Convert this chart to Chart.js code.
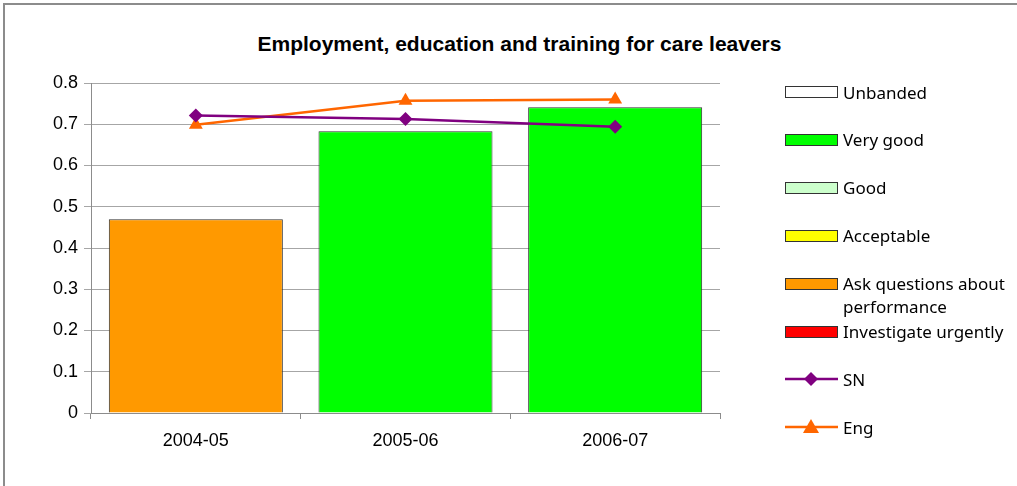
<!DOCTYPE html>
<html>
<head>
<meta charset="utf-8">
<script src="https://cdn.jsdelivr.net/npm/chart.js@4.4.1/dist/chart.umd.min.js"></script>
<style>
  body { margin: 0; background: #fff; }
  #wrap { position: relative; width: 1017px; height: 486px; overflow: hidden; }
  #frame { position: absolute; left: 3px; top: 3px; width: 1100px; height: 600px; border: 2px solid #8c8c8c; }
  #title { position: absolute; left: 0; width: 1039px; top: 32px; text-align: center; line-height: 26px;
           font: bold 21px "Liberation Sans", Arial, sans-serif; color: #000; }
  canvas { position: absolute; left: 0; top: 0; }
  #legend { position: absolute; left: 785px; top: 0; font: 17px "Noto Sans", sans-serif; color: #000; }
  .item { position: absolute; left: 0; white-space: nowrap; }
  .swatch { position: absolute; left: 0; width: 51px; height: 10px; border: 1px solid #333; }
  .label { position: absolute; left: 58px; line-height: 23px; }
</style>
</head>
<body>
<div id="wrap">
  <div id="frame"></div>
  <div id="title">Employment, education and training for care leavers</div>
  <canvas id="chart" width="1017" height="486"></canvas>
  <div id="legend"></div>
</div>
<script>
const categories = ["2004-05", "2005-06", "2006-07"];
const bands = ["Unbanded", "Very good", "Good", "Acceptable", "Ask questions about performance", "Investigate urgently"];
const bandColors = ["#ffffff", "#00ff00", "#ccffcc", "#ffff00", "#ff9900", "#ff0000"];
const barBand = ["Ask questions about performance", "Very good", "Very good"];
const barValues = [0.47, 0.683, 0.741];
const snValues = [0.721, 0.713, 0.694];
const engValues = [0.699, 0.757, 0.76];
const yTickLabels = ["0", "0.1", "0.2", "0.3", "0.4", "0.5", "0.6", "0.7", "0.8"];

const barSets = bands.map((band, b) => ({
  type: "bar",
  label: band,
  data: categories.map((c, i) => (barBand[i] === band ? barValues[i] : null)),
  backgroundColor: bandColors[b],
  borderColor: "#333",
  borderWidth: 1,
  barPercentage: 0.83,
  categoryPercentage: 1,
  order: 2,
}));

const lineSets = [
  { label: "SN", data: snValues, color: "#800080", style: "rectRot", radius: 7 },
  { label: "Eng", data: engValues, color: "#ff6600", style: "triangle", radius: 8 },
].map((s) => ({
  type: "line",
  label: s.label,
  data: s.data,
  borderColor: s.color,
  backgroundColor: s.color,
  borderWidth: 2.5,
  pointStyle: s.style,
  pointRadius: s.radius,
  pointBorderWidth: 0,
  tension: 0,
  order: 1,
}));

const chart = new Chart(document.getElementById("chart").getContext("2d"), {
  data: { labels: categories, datasets: [...barSets, ...lineSets] },
  options: {
    responsive: false,
    animation: false,
    layout: { padding: { left: 0, right: 1017 - 720, top: 83, bottom: 0 } },
    plugins: { legend: { display: false }, tooltip: { enabled: false }, title: { display: false } },
    scales: {
      x: {
        stacked: true,
        grid: { drawOnChartArea: false, drawTicks: true, tickLength: 6, color: "#8c8c8c" },
        border: { color: "#8c8c8c" },
        ticks: { color: "#000", font: { family: "Liberation Sans", size: 18 }, padding: 11 },
        afterFit: (s) => { s.height = 486 - 413; },
      },
      y: {
        stacked: false,
        min: 0,
        max: 0.8,
        ticks: {
          stepSize: 0.1,
          color: "#000",
          font: { family: "Liberation Sans", size: 18 },
          padding: 6,
          callback: (v, i) => yTickLabels[i],
        },
        grid: { color: "#a6a6a6", tickLength: 7 },
        border: { color: "#8c8c8c" },
        afterFit: (s) => { s.width = 91; },
      },
    },
  },
});

// legend built from the chart's datasets
const legend = document.getElementById("legend");
chart.data.datasets.forEach((ds, i) => {
  const cy = 92 + 47.9 * i;
  const item = document.createElement("div");
  item.className = "item";
  item.style.top = cy + "px";
  let mark;
  if (ds.type === "bar") {
    mark = `<div class="swatch" style="top:-6px;background:${ds.backgroundColor}"></div>`;
  } else {
    const m = ds.pointStyle === "triangle"
      ? `<polygon points="26,-8 34,6 18,6" fill="${ds.borderColor}"/>`
      : `<polygon points="26,-7 33,0 26,7 19,0" fill="${ds.borderColor}"/>`;
    mark = `<svg style="position:absolute;left:0;top:-10px;overflow:visible" width="53" height="20">
      <g transform="translate(0,10)"><line x1="0" y1="0" x2="53" y2="0" stroke="${ds.borderColor}" stroke-width="2.5"/>${m}</g></svg>`;
  }
  const text = ds.label === "Ask questions about performance" ? "Ask questions about<br>performance" : ds.label;
  item.innerHTML = mark + `<div class="label" style="top:-11.5px">${text}</div>`;
  legend.appendChild(item);
});
</script>
</body>
</html>
